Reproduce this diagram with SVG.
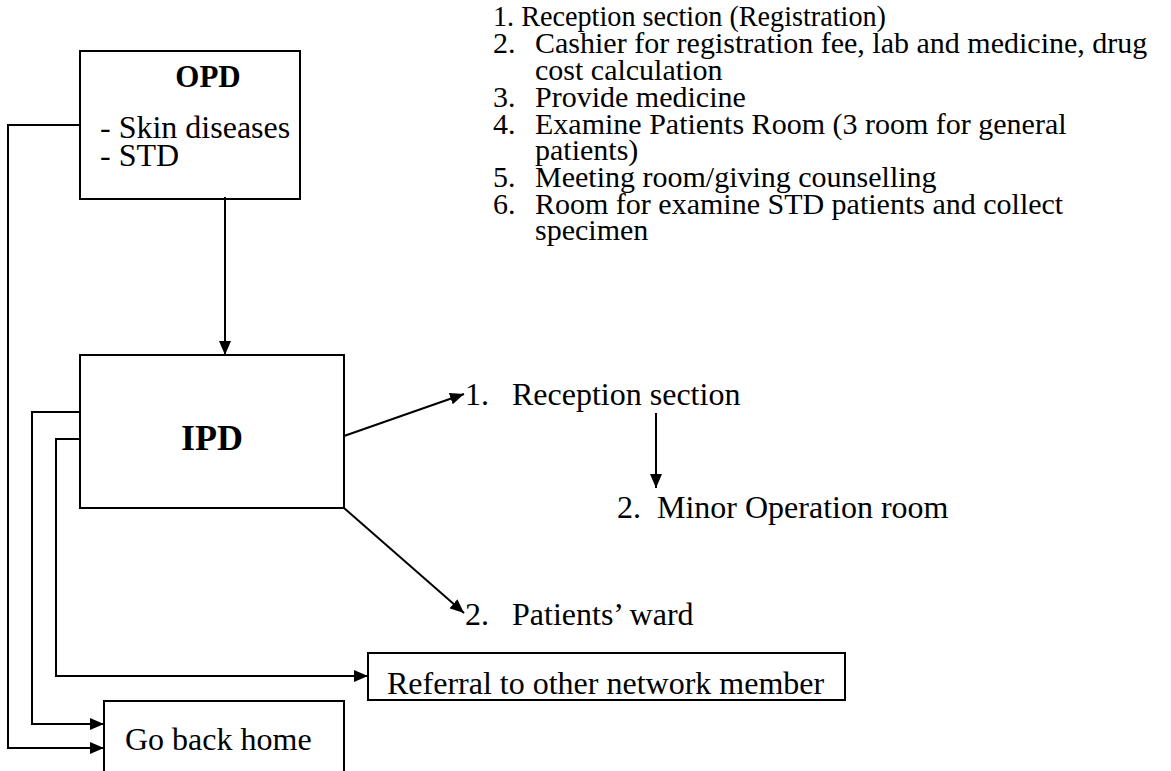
<svg xmlns="http://www.w3.org/2000/svg" width="1171" height="771" viewBox="0 0 1171 771">
  <style>
    text { font-family: "Liberation Serif", "Times New Roman", serif; font-size: 32px; fill: #000; }
    .list text { font-size: 30px; }
    .bold { font-weight: bold; }
    .box { fill: #fff; stroke: #000; stroke-width: 2; }
    .wire { fill: none; stroke: #000; stroke-width: 2; }
  </style>
  <defs>
    <marker id="arrow" viewBox="0 0 14 12" refX="14" refY="6" markerWidth="14" markerHeight="12" markerUnits="userSpaceOnUse" orient="auto">
      <path d="M0,0 L14,6 L0,12 Z" fill="#000"/>
    </marker>
  </defs>

  <rect width="1171" height="771" fill="#fff"/>

  <!-- OPD service list -->
  <g id="opd-list" class="list">
    <text x="493" y="26" textLength="393" lengthAdjust="spacingAndGlyphs">1. Reception section (Registration)</text>
    <text x="493" y="53">2.</text><text x="535" y="53">Cashier for registration fee, lab and medicine, drug</text>
    <text x="535" y="80">cost calculation</text>
    <text x="493" y="107">3.</text><text x="535" y="107">Provide medicine</text>
    <text x="493" y="134">4.</text><text x="535" y="134">Examine Patients Room (3 room for general</text>
    <text x="535" y="160">patients)</text>
    <text x="493" y="187">5.</text><text x="535" y="187">Meeting room/giving counselling</text>
    <text x="493" y="214">6.</text><text x="535" y="214">Room for examine STD patients and collect</text>
    <text x="535" y="240">specimen</text>
  </g>

  <g id="opd">
    <rect class="box" x="80" y="51" width="220" height="148"/>
    <text class="bold" x="208" y="87" text-anchor="middle" style="font-size:31px">OPD</text>
    <text x="100" y="138">- Skin diseases</text>
    <text x="100" y="166">- STD</text>
  </g>

  <g id="ipd">
    <rect class="box" x="80" y="355" width="264" height="153"/>
    <text class="bold" x="212" y="450" text-anchor="middle" style="font-size:36px">IPD</text>
  </g>

  <g id="ipd-reception">
    <text x="465" y="405">1.</text><text x="512" y="405">Reception section</text>
  </g>

  <g id="minor-operation">
    <text x="617" y="518">2.</text><text x="657" y="518">Minor Operation room</text>
  </g>

  <g id="patients-ward">
    <text x="465" y="625">2.</text><text x="512" y="625">Patients’ ward</text>
  </g>

  <g id="referral">
    <rect class="box" x="368" y="653" width="477" height="47"/>
    <text x="387" y="694">Referral to other network member</text>
  </g>

  <g id="go-home">
    <rect class="box" x="104" y="701" width="240" height="80"/>
    <text x="125" y="750">Go back home</text>
  </g>

  <g id="connectors">
    <path class="wire" d="M225,197 V355" marker-end="url(#arrow)"/>
    <path class="wire" d="M344,436 L464,394" marker-end="url(#arrow)"/>
    <path class="wire" d="M656,413 V488" marker-end="url(#arrow)"/>
    <path class="wire" d="M344,508 L464,613" marker-end="url(#arrow)"/>
    <path class="wire" d="M80,125 H8 V748 H104" marker-end="url(#arrow)"/>
    <path class="wire" d="M80,412 H32 V724 H104" marker-end="url(#arrow)"/>
    <path class="wire" d="M80,439 H56 V676 H368" marker-end="url(#arrow)"/>
  </g>
</svg>
